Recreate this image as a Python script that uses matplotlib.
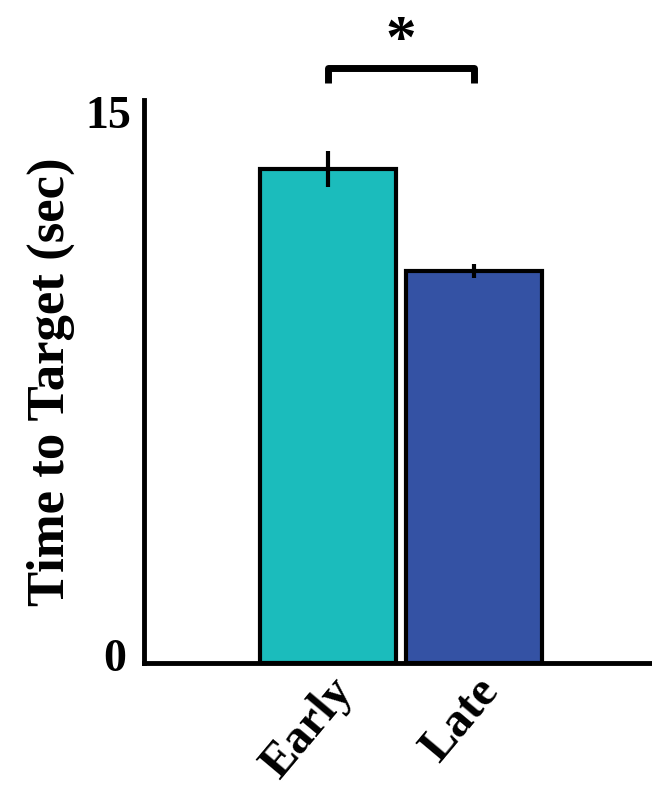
import matplotlib
matplotlib.use("Agg")
import matplotlib.pyplot as plt
from matplotlib.transforms import ScaledTranslation

# Mean time to target per session phase, with SEM
conditions = ["Early", "Late"]
mean_time = [13.45, 10.67]
sem_time = [0.5, 0.2]
bar_colors = ["#1BBCBC", "#3452A4"]
y_ticks = [0, 15]

plt.rcParams["font.family"] = ["Liberation Serif", "DejaVu Serif"]
plt.rcParams["font.weight"] = "bold"

fig = plt.figure(figsize=(6.52, 7.91), dpi=100)
ax = fig.add_axes([0.2209, 0.1618, 0.7791, 0.7118])

x = list(range(len(conditions)))
ax.bar(x, mean_time, width=0.93, color=bar_colors, edgecolor="black",
       linewidth=3, zorder=2)
ax.errorbar(x, mean_time, yerr=sem_time, fmt="none", ecolor="black",
            elinewidth=3, capsize=0, zorder=3)

ax.set_xlim(-1.26, 2.22)
ax.set_ylim(0, 15.33)
ax.set_yticks(y_ticks)
ax.set_yticklabels([str(v) for v in y_ticks], fontsize=33, fontweight="bold")
ax.tick_params(axis="y", length=0, pad=9)
# lift the zero label slightly off the baseline
zero_label = ax.get_yticklabels()[0]
zero_label.set_transform(zero_label.get_transform()
                         + ScaledTranslation(-0.05, 8 / 100, fig.dpi_scale_trans))

ax.set_xticks(x)
ax.set_xticklabels(conditions, rotation=50, ha="right", rotation_mode="anchor",
                   fontsize=35, fontweight="bold")
ax.tick_params(axis="x", length=0, pad=5)

for side in ["top", "right"]:
    ax.spines[side].set_visible(False)
for side in ["left", "bottom"]:
    ax.spines[side].set_linewidth(3.5)

ax.set_ylabel("Time to Target (sec)", fontsize=38, fontweight="bold", labelpad=8)

# Significance bracket between the two conditions
bracket_y = 16.2
leg = 0.4
ax.plot([x[0], x[0], x[1], x[1]],
        [bracket_y - leg, bracket_y, bracket_y, bracket_y - leg],
        color="black", linewidth=5, clip_on=False, solid_joinstyle="round",
        solid_capstyle="butt")
ax.text((x[0] + x[1]) / 2, bracket_y - 0.05, "*", ha="center", va="bottom",
        fontsize=44, fontweight="bold", clip_on=False)

fig.savefig("out.png", dpi=100)
